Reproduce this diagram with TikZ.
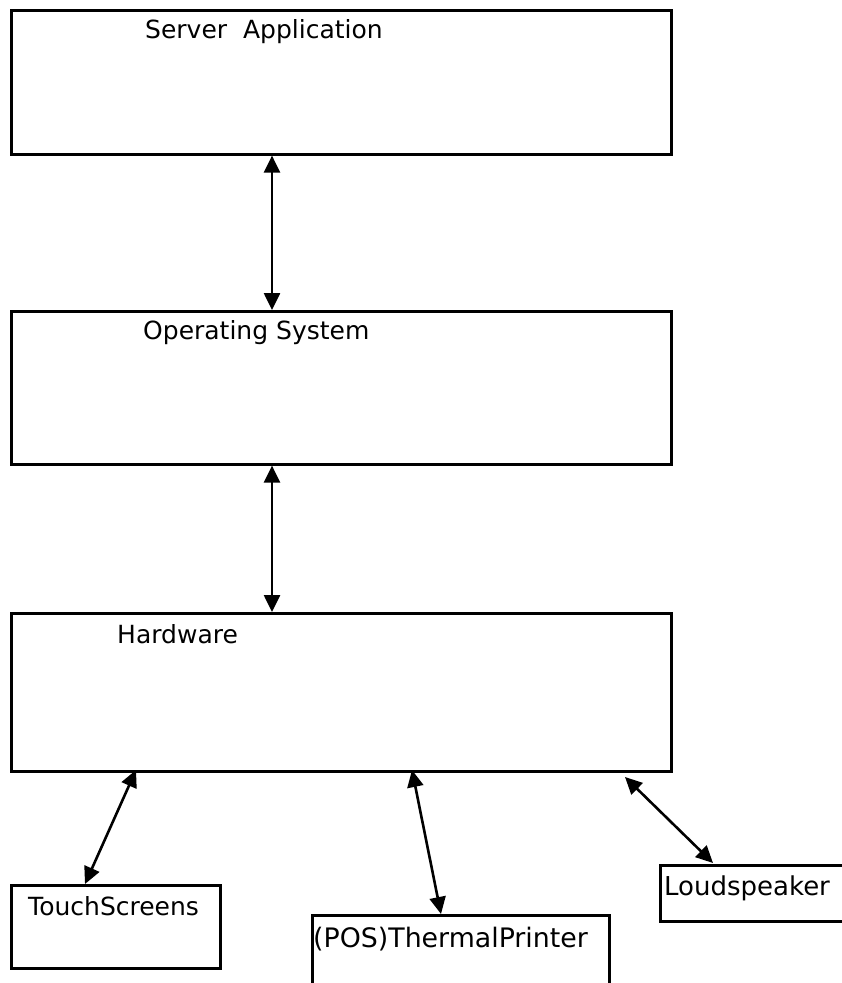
\documentclass[tikz,border=0pt]{standalone}
\usepackage{fontspec}
\setmainfont{DejaVu Sans}
\usetikzlibrary{arrows.meta}
\begin{document}
\begin{tikzpicture}[x=1pt,y=-1pt,
  layerbox/.style={draw=black, line width=2.6pt, rectangle, inner sep=0pt, anchor=north west},
  lbl/.style={inner sep=0pt, anchor=base west, font=\fontsize{25}{30}\selectfont},
  link/.style={line width=2.6pt, {Triangle[length=17pt,width=16pt]}-{Triangle[length=17pt,width=16pt]}}]
  \clip (0,0) rectangle (842,983);
  \fill[white] (0,0) rectangle (842,983);

  % software / hardware layers
  \node[layerbox, minimum width=660pt, minimum height=144pt] (app) at (10,9) {};
  \node[layerbox, minimum width=660pt, minimum height=153pt] (os) at (10,310) {};
  \node[layerbox, minimum width=660pt, minimum height=158pt] (hw) at (10,612) {};

  \node[lbl] (appT) at (145,38.5) {Server\ \ Application};
  \node[lbl] (osT) at (143,339.5) {Operating System};
  \node[lbl] (hwT) at (117,643) {Hardware};

  % peripheral devices
  \node[layerbox, minimum width=209pt, minimum height=83pt] (touch) at (10,884) {};
  \node[layerbox, minimum width=297pt, minimum height=120pt] (printer) at (311,914) {};
  \node[layerbox, minimum width=220pt, minimum height=56pt] (speaker) at (659,864) {};

  \node[lbl] (touchT) at (28,915) {TouchScreens};
  \node[lbl, font=\fontsize{26.8}{32}\selectfont] (printerT) at (313,947) {(POS)ThermalPrinter};
  \node[lbl, font=\fontsize{26}{31}\selectfont] (speakerT) at (664,895) {Loudspeaker};

  % connector end points
  \coordinate (appB) at (app.south -| 272,0);
  \coordinate (osTop) at (os.north -| 272,0);
  \coordinate (osB) at (os.south -| 272,0);
  \coordinate (hwTop) at (hw.north -| 272,0);
  \coordinate (hwA) at (136,770);
  \coordinate (hwB) at (412,770);
  \coordinate (hwC) at (625,777);
  \coordinate (touchTop) at (85,884);
  \coordinate (printerTop) at (441,914);
  \coordinate (speakerTop) at (713,863);

  \draw[link] (appB) -- (osTop);
  \draw[link] (osB) -- (hwTop);
  \draw[link] (hwA) -- (touchTop);
  \draw[link] (hwB) -- (printerTop);
  \draw[link] (hwC) -- (speakerTop);
\end{tikzpicture}
\end{document}
